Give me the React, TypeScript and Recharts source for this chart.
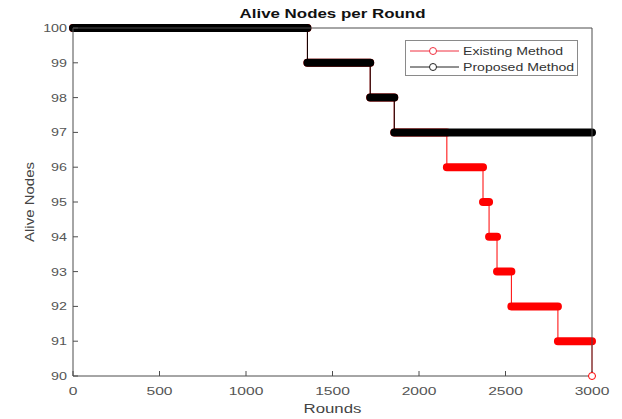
import {
  LineChart,
  Line,
  XAxis,
  YAxis,
} from "recharts";

// step data: level held from start round to next start round
const seriesNames = ["Existing Method", "Proposed Method"];
const proposedStarts = [0, 1355, 1718, 1857];
const proposedLevels = [100, 99, 98, 97];
const existingStarts = [0, 1355, 1718, 1857, 2161, 2370, 2405, 2451, 2534, 2803, 3000];
const existingLevels = [100, 99, 98, 97, 96, 95, 94, 93, 92, 91, 90];
const xTicks = [0, 500, 1000, 1500, 2000, 2500, 3000];
const yTicks = [90, 91, 92, 93, 94, 95, 96, 97, 98, 99, 100];
const LAST_ROUND = 3000;

const RED = "#ff0000";
const BLACK = "#000000";
const AXIS = "#4d4d4d";
const LABEL = "#555";
const FONT = "'Liberation Sans', Arial, sans-serif";
const STRETCH = 1.42; // the source text is drawn wide

type Pt = { round: number; nodes: number | null };

function stepPoints(starts: number[], levels: number[]): Pt[] {
  const pts: Pt[] = starts.map((s, i) => ({ round: s, nodes: levels[i] }));
  const last = pts[pts.length - 1];
  if (last.round < LAST_ROUND) pts.push({ round: LAST_ROUND, nodes: last.nodes });
  return pts;
}

// horizontal runs only, separated by gaps
function runPoints(starts: number[], levels: number[]): Pt[] {
  const pts: Pt[] = [];
  starts.forEach((s, i) => {
    const end = i + 1 < starts.length ? starts[i + 1] : LAST_ROUND;
    if (end <= s) return;
    pts.push({ round: s, nodes: levels[i] });
    pts.push({ round: end, nodes: levels[i] });
    pts.push({ round: end, nodes: null });
  });
  return pts;
}

const existingStep = stepPoints(existingStarts, existingLevels);
const proposedStep = stepPoints(proposedStarts, proposedLevels);
const existingRuns = runPoints(existingStarts, existingLevels);
const proposedRuns = runPoints(proposedStarts, proposedLevels);

const XTick = ({ x, y, payload }: any) => (
  <text
    transform={`translate(${x},${y}) scale(${STRETCH},1)`}
    textAnchor="middle"
    dy="0.71em"
    fill={LABEL}
    fontSize={11}
    fontFamily={FONT}
  >
    {payload.value}
  </text>
);

const YTick = ({ x, y, payload }: any) => (
  <text
    transform={`translate(${x},${y}) scale(1.3,1)`}
    textAnchor="end"
    dy="0.355em"
    fill={LABEL}
    fontSize={11}
    fontFamily={FONT}
  >
    {payload.value}
  </text>
);

function LegendBox() {
  const colors = ["#f03040", "#222"];
  return (
    <div
      style={{
        position: "absolute",
        left: 405,
        top: 40,
        width: 171,
        height: 34,
        border: "1px solid #8a8a8a",
        background: "#fff",
        fontSize: 11,
        color: "#333",
      }}
    >
      {seriesNames.map((name, i) => (
        <div
          key={name}
          style={{ display: "flex", alignItems: "center", height: 16, marginTop: i === 0 ? 2 : 0 }}
        >
          <svg width={54} height={12}>
            <line x1={4} y1={6} x2={53} y2={6} stroke={colors[i]} strokeWidth={1} />
            <circle cx={27} cy={6} r={3.5} fill="#fff" stroke={colors[i]} strokeWidth={1} />
          </svg>
          <span
            style={{
              display: "inline-block",
              marginLeft: 3,
              transform: "scaleX(1.28)",
              transformOrigin: "left center",
              whiteSpace: "nowrap",
            }}
          >
            {name}
          </span>
        </div>
      ))}
    </div>
  );
}

const endDot = (props: any) => {
  const { cx, cy, index } = props;
  if (index !== existingStep.length - 1) return <g key={`d${index}`} />;
  return (
    <circle key={`d${index}`} cx={cx} cy={cy} r={3.5} fill="#fff" stroke={RED} strokeWidth={1} />
  );
};

export default function App() {
  return (
    <div
      style={{
        position: "absolute",
        left: 0,
        top: 0,
        width: 622,
        height: 419,
        background: "#fff",
        fontFamily: FONT,
      }}
    >
      <div
        style={{
          position: "absolute",
          top: 6,
          left: 73,
          width: 519,
          textAlign: "center",
          fontWeight: "bold",
          fontSize: 13,
          color: "#111",
          transform: "scaleX(1.3)",
        }}
      >
        Alive Nodes per Round
      </div>
      <div
        style={{
          position: "absolute",
          top: 402,
          left: 73,
          width: 519,
          textAlign: "center",
          fontSize: 12,
          color: "#444",
          transform: "scaleX(1.4)",
        }}
      >
        Rounds
      </div>
      <div
        style={{
          position: "absolute",
          left: 30,
          top: 202,
          transform: "translate(-50%, -50%) rotate(-90deg) scaleX(1.25)",
          fontSize: 12,
          color: "#444",
          whiteSpace: "nowrap",
        }}
      >
        Alive Nodes
      </div>
      <LineChart
        width={622}
        height={419}
        margin={{ top: 27, right: 29, left: 0, bottom: 0 }}
      >
        <XAxis
          xAxisId="b"
          dataKey="round"
          type="number"
          domain={[0, 3000]}
          ticks={xTicks}
          height={43}
          stroke={AXIS}
          tick={<XTick />}
          tickSize={-5}
          tickMargin={16}
          allowDuplicatedCategory={false}
        />
        <XAxis
          xAxisId="t"
          orientation="top"
          dataKey="round"
          type="number"
          domain={[0, 3000]}
          ticks={xTicks}
          height={1}
          stroke={AXIS}
          tickSize={-5}
          tickFormatter={() => ""}
        />
        <YAxis
          yAxisId="l"
          type="number"
          domain={[90, 100]}
          ticks={yTicks}
          width={73}
          stroke={AXIS}
          tick={<YTick />}
          tickSize={-5}
          tickMargin={11}
        />
        <YAxis
          yAxisId="r"
          orientation="right"
          type="number"
          domain={[90, 100]}
          ticks={yTicks}
          width={1}
          stroke={AXIS}
          tickSize={-5}
          tickFormatter={() => ""}
        />
        {/* thin connectors first, thick runs on top; proposed drawn last like the source */}
        <Line
          xAxisId="b"
          yAxisId="l"
          data={existingStep}
          dataKey="nodes"
          name={seriesNames[0]}
          type="stepAfter"
          stroke={RED}
          strokeWidth={1}
          dot={endDot}
          isAnimationActive={false}
        />
        <Line
          xAxisId="b"
          yAxisId="l"
          data={existingRuns}
          dataKey="nodes"
          stroke={RED}
          strokeWidth={8}
          strokeLinecap="round"
          dot={false}
          legendType="none"
          connectNulls={false}
          isAnimationActive={false}
        />
        <Line
          xAxisId="b"
          yAxisId="l"
          data={proposedStep}
          dataKey="nodes"
          name={seriesNames[1]}
          type="stepAfter"
          stroke={BLACK}
          strokeWidth={1}
          dot={false}
          isAnimationActive={false}
        />
        <Line
          xAxisId="b"
          yAxisId="l"
          data={proposedRuns}
          dataKey="nodes"
          stroke={BLACK}
          strokeWidth={8}
          strokeLinecap="round"
          dot={false}
          legendType="none"
          connectNulls={false}
          isAnimationActive={false}
        />
      </LineChart>
      <LegendBox />
    </div>
  );
}
